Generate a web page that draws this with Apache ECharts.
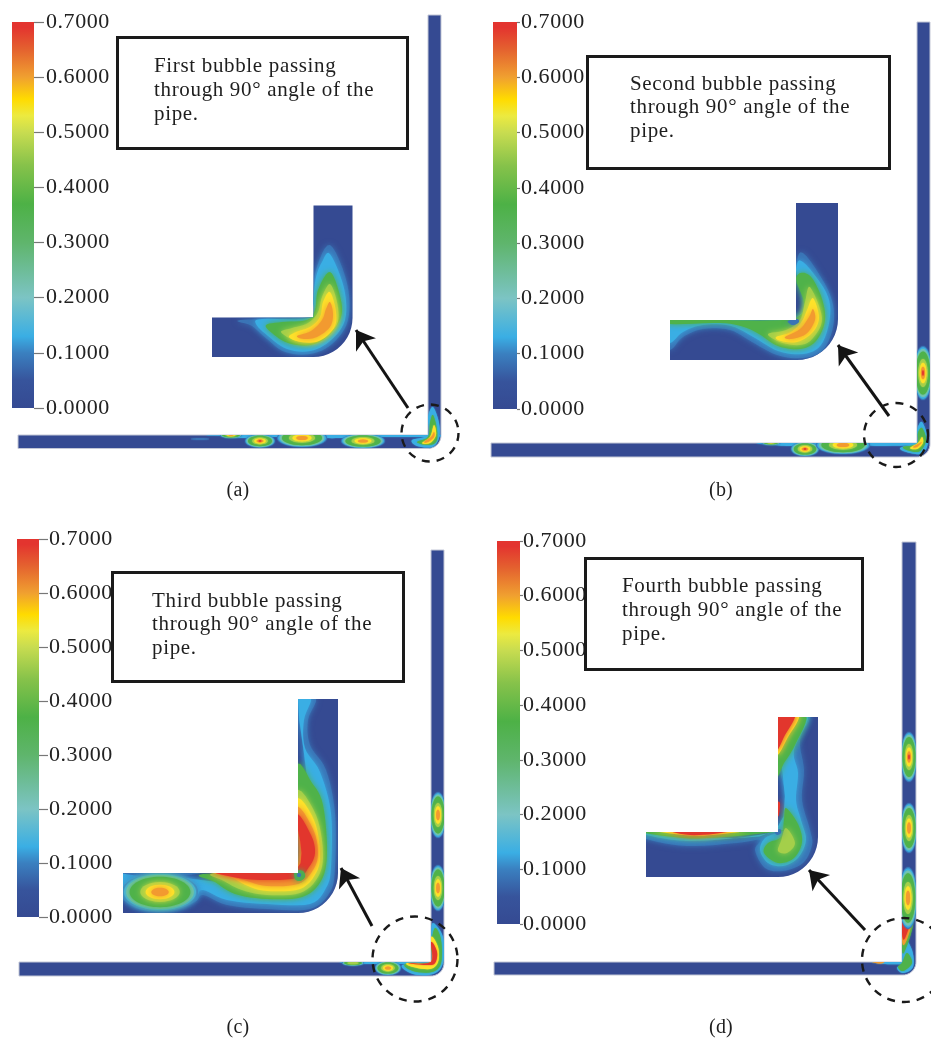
<!DOCTYPE html>
<html><head><meta charset="utf-8">
<script src="https://cdn.jsdelivr.net/npm/echarts@6/dist/echarts.min.js"></script>
<style>html,body{margin:0;padding:0;background:#fff}#c{width:931px;height:1038px;filter:blur(0.45px)}</style>
</head><body><div id="c"></div>
<script>
// letter-spaced serif text, as in the reference typesetting
(function(){
  const proto=CanvasRenderingContext2D.prototype, d=Object.getOwnPropertyDescriptor(proto,'font');
  const spacing={21:'0.66px',22:'0.55px',20:'0.2px'};
  Object.defineProperty(proto,'font',{configurable:true,get(){return d.get.call(this);},set(v){
    d.set.call(this,v);
    const m=/(\d+(?:\.\d+)?)px/.exec(v);
    if('letterSpacing' in this) this.letterSpacing=(m&&spacing[Math.round(+m[1])])||'0px';
  }});
})();
// ---- colour scale
const scaleTicks = [0,0.1,0.2,0.3,0.4,0.5,0.6,0.7];
const scaleStops = [[0,'#354a92'],[0.05,'#37549c'],[0.1,'#3a80c0'],[0.13,'#3aaee4'],[0.2,'#7cc4c4'],[0.3,'#5fb56c'],[0.37,'#4db146'],[0.44,'#86c24a'],[0.5,'#c8dc50'],[0.53,'#ecea40'],[0.56,'#ffdb00'],[0.6,'#f0a030'],[0.65,'#e4622f'],[0.69,'#e3342f'],[0.7,'#e3342f']];
const levelColors = ['#3a74b6','#3aaee4','#74c4b4','#4fb24a','#a4cf4a','#fde22a','#f29a30','#e2362d'];
const ringScale = [1,.95,.89,.8,.52,.38,.23,.1];
const PIPE = '#354a92';

// ---- pipes: left, top, bottom, innerX, outerX, topEnd, radius
const pipes = [
 [18,435,448.5,428,441,15,13],[212,317.5,357,313.5,352.5,205.5,39],
 [491,443,457,917,930,22,13],[670,320,360,796,838,203,41],
 [19,962,976,431,444,550,13],[123,873,913,298,338,699,40],
 [494,962,975,902,916,542,13],[646,832,877,778,818,717,40]
];
// ---- contours per pipe: level, outline x,y...
const contoursLongA = [
 [1,[220,435,428,435,428,437,390,437,345,438,320,438,280,437,240,438,225,436]],
 [1,[433,407,439,423,439,438,432,447,417,446,412,440,428,435,428,417]],
 [3,[433,415,437,430,436,442,427,445,417,442,428,437,430,423]],
 [5,[434,425,436,435,430,443,422,443,430,437]],
 [6,[434,432,434,437,428,442,424,442,431,437]]
];
const blobsLongA = [[260,441,15,6.5,7],[302,438,25,9,6],[363,441,22,7,6],[231,435,11,3,6],[200,439,9,1,0]];
const contoursInsetA = [
 [0,[330,245,347,283,348,320,332,344,310,354,285,352,267,339,252,326,240,320,310,317,313,300,316,270]],
 [1,[330,254,344,288,345,320,330,341,310,351,287,349,268,336,256,324,262,319,310,318,313,300,316,277,322,262]],
 [3,[330,272,340,296,341,317,328,336,310,345,288,343,272,333,266,325,282,322,307,320,315,310,318,290]],
 [4,[330,284,337,302,338,321,330,332,310,342,294,340,281,332,292,328,308,323,318,312,322,297]],
 [5,[330,292,336,312,334,328,319,341,301,342,289,337,296,332,310,327,320,317,323,302]],
 [6,[330,302,333,314,330,327,317,337,304,339,297,336,311,331,322,320,326,309]]
];
const blobsInsetA = [];
const contoursLongB = [
 [1,[765,443,916,443,916,445,880,446,860,445,820,445,790,446,775,445]],
 [1,[922,422,928,440,923,453,910,453,900,448,917,442,917,430]],
 [3,[922,428,926,440,920,451,910,451,903,447,917,444,918,433]],
 [5,[922,437,923,443,917,449,910,448,918,443]],
 [6,[922,442,917,447,913,447,920,443]]
];
const blobsLongB = [[923,373,9,27,7],[805,449,14,7,7],[843,445,27,9,6],[771,442,10,3,6]];
const contoursInsetB = [
 [0,[803,253,828,290,834,320,824,349,803,358,777,355,752,342,730,330,703,329,683,337,670,350,660,340,670,318,796,318,796,270]],
 [1,[803,262,826,292,830,317,821,345,803,354,778,351,755,338,731,326,703,325,683,332,670,343,660,335,670,318,796,318,796,270]],
 [3,[670,318,796,318,796,278,809,275,821,296,825,320,816,341,800,349,778,346,759,334,744,327,720,323,670,324]],
 [4,[810,287,822,318,813,338,800,345,780,342,768,334,786,330,800,320,805,302]],
 [5,[813,298,819,318,812,333,797,342,781,341,776,337,791,332,802,321,807,310]],
 [6,[813,309,815,320,806,334,791,339,785,337,800,329,809,317]],
 [0,[788,321,797,319,799,322,794,325,790,324]]
];
const blobsInsetB = [];
const contoursLongC = [
 [1,[345,962,432,962,432,964,400,964,370,964,350,963]],
 [1,[433,923,443,937,443,963,433,974,413,974,402,965,430,962,431,937]],
 [3,[435,928,441,940,441,963,432,972,413,971,405,964,431,962,431,945]],
 [5,[431,937,438,947,438,962,430,969,413,967,407,963,431,962]],
 [7,[431,942,437,952,435,963,427,965,408,963,431,962]]
];
const blobsLongC = [[438,815,8,23,6],[438,888,8,23,6],[388,968,13,7,6],[353,963,11,2.5,4]];
const contoursInsetC = [
 [0,[298,699,316,699,308,720,310,745,326,770,335,813,335,867,330,892,310,909,267,909,227,905,203,895,195,902,173,910,143,910,123,899,115,880,123,871,298,871]],
 [1,[298,699,311,699,304,720,305,748,320,772,331,813,331,867,326,888,310,904,267,904,227,900,203,890,195,897,173,905,143,905,123,894,115,880,123,871,298,871]],
 [0,[123,873,200,873,160,877]],
 [3,[203,874,296,871,296,768,312,783,323,805,327,853,321,881,302,897,267,899,235,894,215,882]],
 [4,[214,873,296,871,296,792,316,815,323,853,318,877,300,893,267,895,242,890,224,881]],
 [5,[217,872,296,871,296,800,314,820,320,853,316,873,300,889,267,891,248,886,231,877]],
 [6,[217,872,296,871,296,808,313,829,318,853,313,870,298,884,267,886,244,880]],
 [7,[213,870,296,870,296,815,311,835,315,853,309,867,297,878,260,880,233,877]],
 [3,[295,871,303,871,305,877,300,881,295,879]],
 [0,[298,873,301,874,300,877,297,876]]
];
const blobsInsetC = [[160,892,38,19,6]];
const contoursLongD = [
 [1,[872,962,902,962,902,964,885,964]],
 [6,[872,962,884,962,880,963.5]],
 [1,[903,937,912,950,913,967,903,973,897,968,902,962]],
 [3,[907,953,912,963,903,971,898,967,902,963]],
 [3,[902,905,913,905,913,925,906,948,902,950]],
 [6,[902,915,911,915,910,930,903,945]],
 [7,[902,918,910,920,907,933,903,939]]
];
const blobsLongD = [[909,757,8,25,7],[909,828,8,25,6],[908,898,9,31,6]];
const contoursInsetD = [
 [0,[776,750,783,715,810,715,800,740,804,770,802,800,810,830,812,845,803,863,783,871,765,868,755,850,760,840,737,843,687,846,646,839,640,832,778,830]],
 [1,[808,715,794,750,798,773,796,800,801,820,806,840,798,858,783,866,768,863,760,850,765,838,778,832,737,838,687,841,646,835,640,830,776,830,776,715]],
 [3,[806,715,795,745,784,763,776,775,776,715]],
 [5,[799,715,788,737,776,755,776,715]],
 [7,[795,715,785,735,776,750,776,715]],
 [3,[786,808,798,824,802,842,794,858,778,863,764,853,768,843,781,837,784,820]],
 [4,[786,828,795,843,787,853,778,851,781,841]],
 [3,[640,830,778,830,757,834,723,837,683,838]],
 [5,[655,830,745,830,717,834.5,690,835.5]],
 [7,[670,830,730,830,717,833.5,690,835]],
 [7,[777,803,780,803,779,815,777,815]],
 [0,[775,832,780,829,781,833,777,835]]
];
const blobsInsetD = [];
const contours = [contoursLongA,contoursInsetA,contoursLongB,contoursInsetB,contoursLongC,contoursInsetC,contoursLongD,contoursInsetD];
const blobs = [blobsLongA,blobsInsetA,blobsLongB,blobsInsetB,blobsLongC,blobsInsetC,blobsLongD,blobsInsetD];

// ---- annotations
const arrows = [[[408,408],[356,330]],[[889,416],[838,345]],[[372,926],[341,868]],[[865,930],[809,870]]];
const circles = [[430,433,57],[896,435,64],[415,959,85],[904,960,84]];
const boxes = [[116,36,409,150],[586,55,891,170],[111,571,405,683],[584,557,864,671]];
const boxText = [
 [154,66,'First bubble passing'],[154,90,'through 90° angle of the'],[154,114,'pipe.'],
 [630,84,'Second bubble passing'],[630,107,'through 90° angle of the'],[630,131,'pipe.'],
 [152,601,'Third bubble passing'],[152,624,'through 90° angle of the'],[152,648,'pipe.'],
 [622,586,'Fourth bubble passing'],[622,610,'through 90° angle of the'],[622,634,'pipe.']
];
const panelLabels = [[238,491,'(a)'],[721,491,'(b)'],[238,1028,'(c)'],[721,1028,'(d)']];
// colour bars: left, right, top, bottom, tick length, label gap
const bars = [[12,34,22,408,10,2],[493,517,22,409,3,1],[17,39,539,917,9,1],[497,520,541,924,3,0]];

const SERIF = '"Liberation Serif","Times New Roman",serif';
function pipeOutline(p, api){
  const [l,t,b,vl,vr,te,r]=p, pts=[[l,t],[vl,t],[vl,te],[vr,te],[vr,b-r]];
  for(let i=1;i<=12;i++){const a=i/12*Math.PI/2; pts.push([vr-r+r*Math.cos(a),b-r+r*Math.sin(a)]);}
  pts.push([l,b]);
  return pts.map(q=>api.coord(q));
}
function flat(a){const o=[];for(let i=0;i<a.length;i+=2)o.push([a[i],a[i+1]]);return o;}
// closed Catmull-Rom outline through the contour points (rendering only)
function rounded(pts){
  const n=pts.length,o=[];
  for(let i=0;i<n;i++){
    const p0=pts[(i+n-1)%n],p1=pts[i],p2=pts[(i+1)%n],p3=pts[(i+2)%n];
    for(let k=0;k<6;k++){const t=k/6,t2=t*t,t3=t2*t;
      o.push([0,1].map(d=>0.5*(2*p1[d]+(p2[d]-p0[d])*t+(2*p0[d]-5*p1[d]+4*p2[d]-p3[d])*t2+(3*p1[d]-p0[d]-3*p2[d]+p3[d])*t3)));
    }
  }
  return o;
}
function renderPipe(params, api){
  const i=api.value(0), p=pipes[i], outline=pipeOutline(p,api);
  const clip={type:'polygon',shape:{points:outline}};
  const children=[{type:'polygon',shape:{points:outline},style:{fill:PIPE,stroke:i%2?null:'#c3c7d6',lineWidth:i%2?0:1}}];
  const blur=i%2?6:1.5;
  contours[i].forEach(c=>{
    const col=levelColors[c[0]];
    children.push({type:'polygon',shape:{points:rounded(flat(c[1]).map(q=>api.coord(q)))},
      style:{fill:col,shadowBlur:blur,shadowColor:col},clipPath:clip,silent:true});
  });
  blobs[i].forEach(b=>{
    const c=api.coord([b[0],b[1]]);
    for(let j=0;j<=b[4];j++){
      const col=levelColors[j];
      children.push({type:'ellipse',shape:{cx:c[0],cy:c[1],rx:b[2]*ringScale[j],ry:b[3]*ringScale[j]},
        style:{fill:col,shadowBlur:blur,shadowColor:col},clipPath:clip,silent:true});
    }
  });
  return {type:'group',children};
}
function renderBox(params, api){
  const b=boxes[api.value(0)], a=api.coord([b[0],b[1]]), z=api.coord([b[2],b[3]]);
  return {type:'rect',shape:{x:a[0]+1.5,y:a[1]+1.5,width:z[0]-a[0]-3,height:z[1]-a[1]-3},style:{fill:'#fff',stroke:'#1a1a1a',lineWidth:3}};
}
const grids=[{left:0,right:0,top:0,bottom:0}], xAxes=[{type:'value',min:0,max:931,show:false,gridIndex:0}], yAxes=[{type:'value',min:0,max:1038,inverse:true,show:false,gridIndex:0}];
const series=[
 {type:'custom',xAxisIndex:0,yAxisIndex:0,renderItem:renderPipe,data:pipes.map((_,i)=>[i]),encode:{x:0,y:0},clip:false,silent:true,animation:false},
 {type:'custom',xAxisIndex:0,yAxisIndex:0,renderItem:renderBox,data:boxes.map((_,i)=>[i]),encode:{x:0,y:0},clip:false,silent:true,animation:false},
 {type:'scatter',xAxisIndex:0,yAxisIndex:0,silent:true,animation:false,clip:false,
  data:circles.map(c=>({value:[c[0],c[1]],symbolSize:c[2]})),symbol:'circle',
  itemStyle:{color:'rgba(0,0,0,0)',borderColor:'#1a1a1a',borderWidth:2.4,borderType:[8,7],opacity:1}},
 {type:'lines',coordinateSystem:'cartesian2d',xAxisIndex:0,yAxisIndex:0,silent:true,animation:false,
  data:arrows.map(a=>({coords:a})),symbol:['none','arrow'],symbolSize:18,
  lineStyle:{color:'#141414',width:3,opacity:1,curveness:0}},
 {type:'scatter',xAxisIndex:0,yAxisIndex:0,silent:true,animation:false,symbolSize:0,itemStyle:{opacity:1},
  data:boxText.map(t=>({value:[t[0],t[1]+0.5],label:{formatter:t[2]}})),
  label:{show:true,position:'right',distance:0,color:'#1e1e1e',opacity:1,fontFamily:SERIF,fontSize:21}},
 {type:'scatter',xAxisIndex:0,yAxisIndex:0,silent:true,animation:false,symbolSize:0,itemStyle:{opacity:1},
  data:panelLabels.map(t=>({value:[t[0],t[1]],label:{formatter:t[2]}})),
  label:{show:true,position:'inside',color:'#1e1e1e',opacity:1,fontFamily:SERIF,fontSize:20}}
];
bars.forEach((b,k)=>{
  const g=k+1;
  grids.push({left:b[0],width:b[1]-b[0],top:b[2],height:b[3]-b[2]});
  xAxes.push({type:'category',gridIndex:g,data:['phase'],show:false,boundaryGap:true});
  yAxes.push({type:'value',gridIndex:g,min:scaleTicks[0],max:scaleTicks[scaleTicks.length-1],interval:0.1,position:'right',
    splitLine:{show:false},axisLine:{show:false},
    axisTick:{show:true,length:b[4],lineStyle:{color:'#777',width:1.2}},
    axisLabel:{show:true,margin:b[4]+b[5],color:'#222',fontFamily:SERIF,fontSize:22,formatter:v=>v.toFixed(4)}});
  series.push({type:'bar',xAxisIndex:g,yAxisIndex:g,barWidth:'100%',data:[scaleTicks[scaleTicks.length-1]],silent:true,animation:false,
    itemStyle:{color:new echarts.graphic.LinearGradient(0,1,0,0,scaleStops.map(s=>({offset:s[0]/0.7,color:s[1]})))}});
});
const chart=echarts.init(document.getElementById('c'),null,{renderer:'canvas',width:931,height:1038});
chart.setOption({animation:false,backgroundColor:'#fff',grid:grids,xAxis:xAxes,yAxis:yAxes,series,tooltip:{show:false}});
</script></body></html>
